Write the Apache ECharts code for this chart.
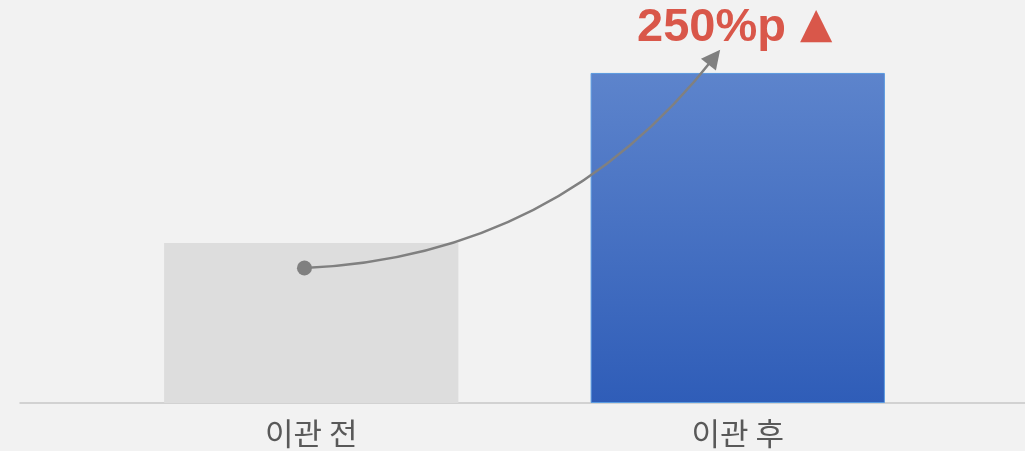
<!DOCTYPE html>
<html>
<head>
<meta charset="utf-8">
<script src="https://cdn.jsdelivr.net/npm/echarts@6/dist/echarts.min.js"></script>
<style>
  html, body { margin: 0; padding: 0; background: #f2f2f2; }
  #chart { width: 1025px; height: 451px; }
</style>
</head>
<body>
<div id="chart"></div>
<script>
(function(){
  const categories = ['이관 전', '이관 후'];
  const values = [39.7, 81.9];
  const headline = '250%p';
  const headlineMark = '▲';
  // arrow from the before-bar to above the after-bar, in [category position, value]
  const arrowFrom = [-0.016, 33.5];
  const arrowTo = [0.945, 85.8];

  const chart = echarts.init(document.getElementById('chart'), null, { renderer: 'canvas' });

  chart.setOption({
    backgroundColor: '#f2f2f2',
    animation: false,
    title: {
      text: `{num|${headline}}{tri|${headlineMark}}`,
      left: 632,
      top: 0,
      textStyle: {
        rich: {
          num: {
            fontFamily: '"Liberation Sans", Arial, sans-serif',
            fontWeight: 'bold',
            fontSize: 47,
            color: '#d9574a'
          },
          tri: {
            fontFamily: '"DejaVu Sans", sans-serif',
            fontSize: 42,
            color: '#d9574a',
            padding: [0, 0, 4, 14]
          }
        }
      }
    },
    grid: [
      { left: 98, right: 74, top: 0, bottom: 48 },
      { left: 20, right: 0, top: 0, bottom: 48 }
    ],
    xAxis: [
      {
        type: 'category',
        gridIndex: 0,
        data: categories,
        axisLine: { show: false },
        axisTick: { show: false },
        axisLabel: {
          margin: 15,
          fontSize: 31,
          color: '#595959',
          fontFamily: '"Noto Sans CJK KR", sans-serif'
        }
      },
      { type: 'value', gridIndex: 0, min: -0.5, max: 1.5, show: false },
      {
        type: 'value',
        gridIndex: 1,
        min: 0,
        max: 1,
        axisLine: { show: true, lineStyle: { color: '#c8c8c8', width: 1.5 } },
        axisTick: { show: false },
        axisLabel: { show: false },
        splitLine: { show: false }
      }
    ],
    yAxis: [
      { type: 'value', gridIndex: 0, min: 0, max: 100, show: false },
      { type: 'value', gridIndex: 1, min: 0, max: 100, show: false }
    ],
    series: [
      {
        type: 'bar',
        xAxisIndex: 0,
        yAxisIndex: 0,
        barWidth: '69%',
        z: 2,
        data: [
          { value: values[0], itemStyle: { color: '#dddddd' } },
          {
            value: values[1],
            itemStyle: {
              color: new echarts.graphic.LinearGradient(0, 0, 0, 1, [
                { offset: 0, color: '#5d84cc' },
                { offset: 1, color: '#2f5db8' }
              ]),
              borderColor: '#5b9be0',
              borderWidth: 1
            }
          }
        ]
      },
      {
        type: 'lines',
        coordinateSystem: 'cartesian2d',
        xAxisIndex: 1,
        yAxisIndex: 0,
        z: 10,
        zlevel: 1,
        symbol: ['circle', 'triangle'],
        symbolSize: [15, 19],
        lineStyle: { color: '#808080', width: 2.5, curveness: -0.23, opacity: 1 },
        data: [{ coords: [arrowFrom, arrowTo] }]
      }
    ]
  });
})();
</script>
</body>
</html>
